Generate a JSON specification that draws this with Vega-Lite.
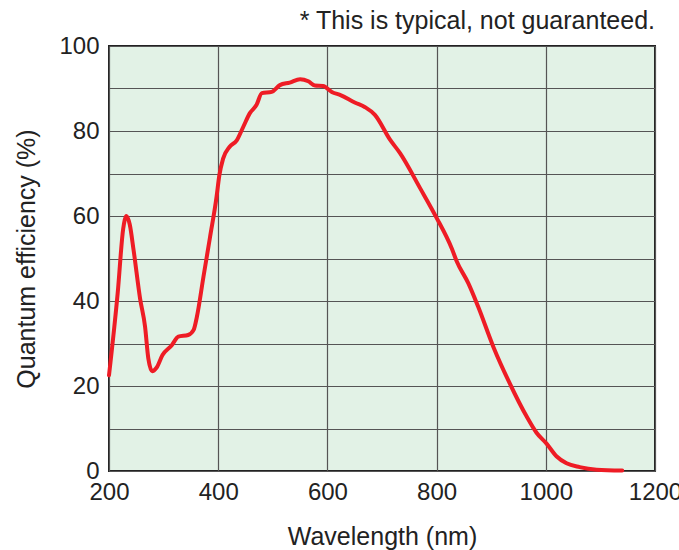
{
  "$schema": "https://vega.github.io/schema/vega-lite/v6.json",
  "autosize": "none",
  "width": 546,
  "height": 425,
  "padding": {"left": 109, "top": 46, "right": 24, "bottom": 79},
  "background": "white",
  "title": {
    "text": "* This is typical, not guaranteed.",
    "anchor": "end",
    "frame": "group",
    "font": "Liberation Sans",
    "fontSize": 25,
    "fontWeight": "normal",
    "color": "#222222",
    "offset": 0
  },
  "config": {
    "view": {"fill": "#E2F2E6", "stroke": "#222222", "strokeWidth": 2},
    "axis": {
      "labelFont": "Liberation Sans",
      "titleFont": "Liberation Sans",
      "labelFontSize": 24,
      "titleFontSize": 25,
      "titleFontWeight": "normal",
      "labelColor": "#222222",
      "titleColor": "#222222",
      "gridColor": "#555555",
      "gridOpacity": 1,
      "gridWidth": 1.2,
      "domain": false,
      "ticks": false
    }
  },
  "data": {
    "values": [
      {"wl": 200, "qe": 22.5},
      {"wl": 216, "qe": 42},
      {"wl": 226, "qe": 57},
      {"wl": 232, "qe": 60},
      {"wl": 238, "qe": 58},
      {"wl": 245, "qe": 52},
      {"wl": 257, "qe": 40.5},
      {"wl": 266, "qe": 34},
      {"wl": 272, "qe": 26.5},
      {"wl": 279, "qe": 23.5},
      {"wl": 287, "qe": 24.3},
      {"wl": 298, "qe": 27.3},
      {"wl": 315, "qe": 29.6},
      {"wl": 327, "qe": 31.6},
      {"wl": 345, "qe": 32},
      {"wl": 355, "qe": 33.2},
      {"wl": 361, "qe": 36.3},
      {"wl": 373, "qe": 45.7},
      {"wl": 385, "qe": 55},
      {"wl": 397, "qe": 64.5},
      {"wl": 402, "qe": 69.5},
      {"wl": 409, "qe": 73.5},
      {"wl": 421, "qe": 76.3},
      {"wl": 434, "qe": 77.8},
      {"wl": 446, "qe": 81},
      {"wl": 458, "qe": 84.2},
      {"wl": 470, "qe": 86.1},
      {"wl": 480, "qe": 88.9},
      {"wl": 498, "qe": 89.2},
      {"wl": 513, "qe": 90.8},
      {"wl": 531, "qe": 91.4},
      {"wl": 550, "qe": 92.2},
      {"wl": 565, "qe": 91.7},
      {"wl": 577, "qe": 90.7},
      {"wl": 592, "qe": 90.6},
      {"wl": 608, "qe": 89.2},
      {"wl": 625, "qe": 88.4},
      {"wl": 650, "qe": 86.7},
      {"wl": 669, "qe": 85.6},
      {"wl": 687, "qe": 83.8},
      {"wl": 715, "qe": 77.9},
      {"wl": 733, "qe": 74.8},
      {"wl": 770, "qe": 66.5},
      {"wl": 799, "qe": 59.8},
      {"wl": 828, "qe": 52.3},
      {"wl": 837, "qe": 49.3},
      {"wl": 858, "qe": 44.2},
      {"wl": 876, "qe": 38.7},
      {"wl": 904, "qe": 29.2},
      {"wl": 934, "qe": 20.6},
      {"wl": 965, "qe": 12.8},
      {"wl": 983, "qe": 9},
      {"wl": 1001, "qe": 6.5},
      {"wl": 1020, "qe": 3.4},
      {"wl": 1038, "qe": 1.8},
      {"wl": 1062, "qe": 0.9},
      {"wl": 1093, "qe": 0.3},
      {"wl": 1140, "qe": 0.1}
    ]
  },
  "mark": {"type": "line", "color": "#EE1C25", "strokeWidth": 4, "interpolate": "monotone", "strokeCap": "round"},
  "encoding": {
    "x": {
      "field": "wl",
      "type": "quantitative",
      "title": "Wavelength (nm)",
      "scale": {"domain": [200, 1200], "nice": false, "zero": false},
      "axis": {"values": [200, 400, 600, 800, 1000, 1200], "format": "d", "labelPadding": 9, "titlePadding": 20, "labelFlush": false, "labelOverlap": false}
    },
    "y": {
      "field": "qe",
      "type": "quantitative",
      "title": "Quantum efficiency (%)",
      "scale": {"domain": [0, 100], "nice": false},
      "axis": {"values": [0, 10, 20, 30, 40, 50, 60, 70, 80, 90, 100], "format": "d", "labelExpr": "datum.value % 20 == 0 ? datum.label : ''", "labelPadding": 10, "titlePadding": 19, "labelFlush": false, "labelOverlap": false}
    }
  }
}
